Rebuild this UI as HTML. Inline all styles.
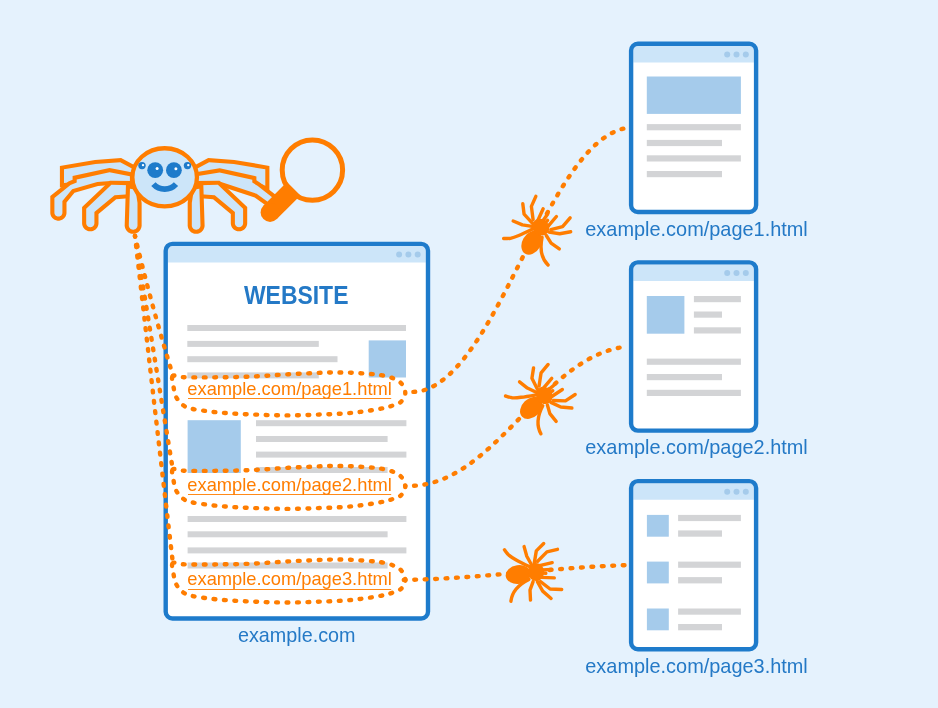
<!DOCTYPE html>
<html><head><meta charset="utf-8"><style>html,body{margin:0;padding:0;background:#e5f2fd;}svg{display:block;will-change:transform}</style></head>
<body><svg width="938" height="708" viewBox="0 0 938 708">
<rect width="938" height="708" fill="#e5f2fd"/>
<rect x="165.7" y="243.89999999999998" width="262.3" height="374.6" rx="6.8" fill="#fff"/>
<path d="M167.9,262.6 V250.7 Q167.9,246.1 172.5,246.1 H421.2 Q425.8,246.1 425.8,250.7 V262.6Z" fill="#cce5f9"/>
<rect x="165.7" y="243.89999999999998" width="262.3" height="374.6" rx="6.8" fill="none" stroke="#1e7bcb" stroke-width="4.4"/>
<circle cx="399.1" cy="254.5" r="3" fill="#a5cbeb"/><circle cx="408.4" cy="254.5" r="3" fill="#a5cbeb"/><circle cx="417.7" cy="254.5" r="3" fill="#a5cbeb"/>
<text x="296.2" y="304.2" text-anchor="middle" font-family="Liberation Sans" font-weight="bold" font-size="26" fill="#2479c6" textLength="104.5" lengthAdjust="spacingAndGlyphs">WEBSITE</text>
<rect x="187.3" y="325" width="218.7" height="6.0" fill="#d3d4d6"/>
<rect x="187.3" y="340.9" width="131.5" height="6.0" fill="#d3d4d6"/>
<rect x="187.3" y="356.2" width="150.2" height="6.0" fill="#d3d4d6"/>
<rect x="187.3" y="372.4" width="131.5" height="6.0" fill="#d3d4d6"/>
<rect x="368.7" y="340.4" width="37.3" height="37.1" fill="#a5cbeb"/>
<rect x="187.6" y="420.2" width="53.2" height="52.8" fill="#a5cbeb"/>
<rect x="256" y="420.2" width="150.4" height="6.0" fill="#d3d4d6"/>
<rect x="256" y="436" width="131.6" height="6.0" fill="#d3d4d6"/>
<rect x="256" y="451.6" width="150.4" height="6.0" fill="#d3d4d6"/>
<rect x="256" y="467" width="131.6" height="6.0" fill="#d3d4d6"/>
<rect x="187.6" y="516" width="218.8" height="6.0" fill="#d3d4d6"/>
<rect x="187.6" y="531.3" width="200.0" height="6.0" fill="#d3d4d6"/>
<rect x="187.6" y="547.4" width="218.8" height="6.0" fill="#d3d4d6"/>
<rect x="187.6" y="562.5" width="200.0" height="6.0" fill="#d3d4d6"/>
<rect x="631.1" y="43.800000000000004" width="125.0" height="168.2" rx="6.8" fill="#fff"/>
<path d="M633.3,62.5 V50.6 Q633.3,46.0 637.9,46.0 H749.3 Q753.9,46.0 753.9,50.6 V62.5Z" fill="#cce5f9"/>
<rect x="631.1" y="43.800000000000004" width="125.0" height="168.2" rx="6.8" fill="none" stroke="#1e7bcb" stroke-width="4.4"/>
<circle cx="727.2" cy="54.5" r="3" fill="#a5cbeb"/><circle cx="736.5" cy="54.5" r="3" fill="#a5cbeb"/><circle cx="745.8" cy="54.5" r="3" fill="#a5cbeb"/>
<rect x="631.1" y="262.4" width="125.0" height="168.2" rx="6.8" fill="#fff"/>
<path d="M633.3,281.09999999999997 V269.2 Q633.3,264.59999999999997 637.9,264.59999999999997 H749.3 Q753.9,264.59999999999997 753.9,269.2 V281.09999999999997Z" fill="#cce5f9"/>
<rect x="631.1" y="262.4" width="125.0" height="168.2" rx="6.8" fill="none" stroke="#1e7bcb" stroke-width="4.4"/>
<circle cx="727.2" cy="273.09999999999997" r="3" fill="#a5cbeb"/><circle cx="736.5" cy="273.09999999999997" r="3" fill="#a5cbeb"/><circle cx="745.8" cy="273.09999999999997" r="3" fill="#a5cbeb"/>
<rect x="631.1" y="481.09999999999997" width="125.0" height="168.2" rx="6.8" fill="#fff"/>
<path d="M633.3,499.79999999999995 V487.9 Q633.3,483.29999999999995 637.9,483.29999999999995 H749.3 Q753.9,483.29999999999995 753.9,487.9 V499.79999999999995Z" fill="#cce5f9"/>
<rect x="631.1" y="481.09999999999997" width="125.0" height="168.2" rx="6.8" fill="none" stroke="#1e7bcb" stroke-width="4.4"/>
<circle cx="727.2" cy="491.79999999999995" r="3" fill="#a5cbeb"/><circle cx="736.5" cy="491.79999999999995" r="3" fill="#a5cbeb"/><circle cx="745.8" cy="491.79999999999995" r="3" fill="#a5cbeb"/>
<rect x="646.8" y="76.5" width="94.1" height="37.4" fill="#a5cbeb"/>
<rect x="646.8" y="124.1" width="94.1" height="6.2" fill="#d3d4d6"/>
<rect x="646.8" y="139.9" width="75.2" height="6.2" fill="#d3d4d6"/>
<rect x="646.8" y="155.3" width="94.1" height="6.2" fill="#d3d4d6"/>
<rect x="646.8" y="171" width="75.2" height="6.2" fill="#d3d4d6"/>
<rect x="646.8" y="296" width="37.6" height="37.7" fill="#a5cbeb"/>
<rect x="693.9" y="296" width="47.0" height="6.2" fill="#d3d4d6"/>
<rect x="693.9" y="311.5" width="28.1" height="6.2" fill="#d3d4d6"/>
<rect x="693.9" y="327.3" width="47.0" height="6.2" fill="#d3d4d6"/>
<rect x="646.8" y="358.6" width="94.1" height="6.2" fill="#d3d4d6"/>
<rect x="646.8" y="374" width="75.2" height="6.2" fill="#d3d4d6"/>
<rect x="646.8" y="389.8" width="94.1" height="6.2" fill="#d3d4d6"/>
<rect x="646.9" y="514.9" width="21.9" height="21.8" fill="#a5cbeb"/>
<rect x="678.1" y="514.9" width="62.8" height="6.2" fill="#d3d4d6"/>
<rect x="678.1" y="530.4" width="43.9" height="6.3" fill="#d3d4d6"/>
<rect x="646.9" y="561.6" width="21.9" height="21.8" fill="#a5cbeb"/>
<rect x="678.1" y="561.6" width="62.8" height="6.2" fill="#d3d4d6"/>
<rect x="678.1" y="577.1" width="43.9" height="6.3" fill="#d3d4d6"/>
<rect x="646.9" y="608.5" width="21.9" height="21.8" fill="#a5cbeb"/>
<rect x="678.1" y="608.5" width="62.8" height="6.2" fill="#d3d4d6"/>
<rect x="678.1" y="624.0" width="43.9" height="6.3" fill="#d3d4d6"/>
<text x="585.3" y="235.7" font-family="Liberation Sans" font-size="19.8" fill="#2479c6" textLength="222.5" lengthAdjust="spacingAndGlyphs">example.com/page1.html</text>
<text x="585.3" y="454.3" font-family="Liberation Sans" font-size="19.8" fill="#2479c6" textLength="222.5" lengthAdjust="spacingAndGlyphs">example.com/page2.html</text>
<text x="585.3" y="673" font-family="Liberation Sans" font-size="19.8" fill="#2479c6" textLength="222.5" lengthAdjust="spacingAndGlyphs">example.com/page3.html</text>
<text x="238" y="641.6" font-family="Liberation Sans" font-size="19.8" fill="#2479c6" textLength="117.5" lengthAdjust="spacingAndGlyphs">example.com</text>
<text x="187.3" y="394.7" font-family="Liberation Sans" font-size="18.6" fill="#ff7d00" textLength="204.5" lengthAdjust="spacingAndGlyphs">example.com/page1.html</text>
<rect x="188" y="398" width="203.2" height="1.0" fill="#ff7d00" opacity="0.9"/>
<text x="187.3" y="490.5" font-family="Liberation Sans" font-size="18.6" fill="#ff7d00" textLength="204.5" lengthAdjust="spacingAndGlyphs">example.com/page2.html</text>
<rect x="188" y="494" width="203.2" height="1.0" fill="#ff7d00" opacity="0.9"/>
<text x="187.3" y="585.4" font-family="Liberation Sans" font-size="18.6" fill="#ff7d00" textLength="204.5" lengthAdjust="spacingAndGlyphs">example.com/page3.html</text>
<rect x="188" y="589" width="203.2" height="1.0" fill="#ff7d00" opacity="0.9"/>
<path d="M172.7,376.1 C174.3,374.5 178.1,377.0 183.3,377.2 C188.6,377.4 197.2,377.4 204.2,377.4 C211.2,377.4 218.3,377.3 225.3,377.2 C232.3,377.1 239.1,377.1 246.0,376.8 C252.9,376.6 259.9,376.1 266.9,375.7 C273.9,375.3 281.0,374.7 288.2,374.3 C295.4,373.9 303.0,373.6 310.0,373.3 C317.0,373.0 323.3,372.6 330.1,372.5 C336.9,372.4 343.9,372.4 350.9,372.7 C357.9,373.0 366.9,373.7 372.2,374.1 C377.4,374.6 378.9,374.7 382.4,375.4 C385.9,376.1 389.8,376.9 393.0,378.3 C396.2,379.7 399.6,381.2 401.6,383.7 C403.7,386.2 405.4,390.3 405.3,393.3 C405.2,396.3 403.3,399.7 401.0,401.8 C398.7,403.9 394.8,404.9 391.4,406.0 C388.0,407.1 386.0,407.7 380.8,408.7 C375.6,409.7 366.9,411.0 360.0,411.9 C353.1,412.8 346.2,413.4 339.2,413.8 C332.2,414.2 325.0,414.4 318.0,414.6 C311.0,414.9 304.1,415.2 297.1,415.3 C290.1,415.4 283.1,415.4 276.2,415.3 C269.2,415.2 262.4,414.9 255.4,414.6 C248.4,414.3 241.1,414.1 234.1,413.6 C227.1,413.2 220.2,412.7 213.2,411.9 C206.2,411.1 197.4,410.0 192.3,408.9 C187.2,407.8 185.6,407.1 182.9,405.1 C180.2,403.1 177.7,400.1 176.1,397.0 C174.5,393.9 174.1,390.2 173.5,386.7 C172.9,383.2 171.1,377.7 172.7,376.1Z" transform="translate(0,0)" fill="none" stroke="#ff7d00" stroke-width="4.4" stroke-linecap="round" stroke-dasharray="1.8 8.65"/>
<path d="M172.7,376.1 C174.3,374.5 178.1,377.0 183.3,377.2 C188.6,377.4 197.2,377.4 204.2,377.4 C211.2,377.4 218.3,377.3 225.3,377.2 C232.3,377.1 239.1,377.1 246.0,376.8 C252.9,376.6 259.9,376.1 266.9,375.7 C273.9,375.3 281.0,374.7 288.2,374.3 C295.4,373.9 303.0,373.6 310.0,373.3 C317.0,373.0 323.3,372.6 330.1,372.5 C336.9,372.4 343.9,372.4 350.9,372.7 C357.9,373.0 366.9,373.7 372.2,374.1 C377.4,374.6 378.9,374.7 382.4,375.4 C385.9,376.1 389.8,376.9 393.0,378.3 C396.2,379.7 399.6,381.2 401.6,383.7 C403.7,386.2 405.4,390.3 405.3,393.3 C405.2,396.3 403.3,399.7 401.0,401.8 C398.7,403.9 394.8,404.9 391.4,406.0 C388.0,407.1 386.0,407.7 380.8,408.7 C375.6,409.7 366.9,411.0 360.0,411.9 C353.1,412.8 346.2,413.4 339.2,413.8 C332.2,414.2 325.0,414.4 318.0,414.6 C311.0,414.9 304.1,415.2 297.1,415.3 C290.1,415.4 283.1,415.4 276.2,415.3 C269.2,415.2 262.4,414.9 255.4,414.6 C248.4,414.3 241.1,414.1 234.1,413.6 C227.1,413.2 220.2,412.7 213.2,411.9 C206.2,411.1 197.4,410.0 192.3,408.9 C187.2,407.8 185.6,407.1 182.9,405.1 C180.2,403.1 177.7,400.1 176.1,397.0 C174.5,393.9 174.1,390.2 173.5,386.7 C172.9,383.2 171.1,377.7 172.7,376.1Z" transform="translate(0,93.5)" fill="none" stroke="#ff7d00" stroke-width="4.4" stroke-linecap="round" stroke-dasharray="1.8 8.65"/>
<path d="M172.7,376.1 C174.3,374.5 178.1,377.0 183.3,377.2 C188.6,377.4 197.2,377.4 204.2,377.4 C211.2,377.4 218.3,377.3 225.3,377.2 C232.3,377.1 239.1,377.1 246.0,376.8 C252.9,376.6 259.9,376.1 266.9,375.7 C273.9,375.3 281.0,374.7 288.2,374.3 C295.4,373.9 303.0,373.6 310.0,373.3 C317.0,373.0 323.3,372.6 330.1,372.5 C336.9,372.4 343.9,372.4 350.9,372.7 C357.9,373.0 366.9,373.7 372.2,374.1 C377.4,374.6 378.9,374.7 382.4,375.4 C385.9,376.1 389.8,376.9 393.0,378.3 C396.2,379.7 399.6,381.2 401.6,383.7 C403.7,386.2 405.4,390.3 405.3,393.3 C405.2,396.3 403.3,399.7 401.0,401.8 C398.7,403.9 394.8,404.9 391.4,406.0 C388.0,407.1 386.0,407.7 380.8,408.7 C375.6,409.7 366.9,411.0 360.0,411.9 C353.1,412.8 346.2,413.4 339.2,413.8 C332.2,414.2 325.0,414.4 318.0,414.6 C311.0,414.9 304.1,415.2 297.1,415.3 C290.1,415.4 283.1,415.4 276.2,415.3 C269.2,415.2 262.4,414.9 255.4,414.6 C248.4,414.3 241.1,414.1 234.1,413.6 C227.1,413.2 220.2,412.7 213.2,411.9 C206.2,411.1 197.4,410.0 192.3,408.9 C187.2,407.8 185.6,407.1 182.9,405.1 C180.2,403.1 177.7,400.1 176.1,397.0 C174.5,393.9 174.1,390.2 173.5,386.7 C172.9,383.2 171.1,377.7 172.7,376.1Z" transform="translate(0,187.1)" fill="none" stroke="#ff7d00" stroke-width="4.4" stroke-linecap="round" stroke-dasharray="1.8 8.65"/>
<path stroke-dashoffset="1.3" d="M135,236 Q150,300 173,376" fill="none" stroke="#ff7d00" stroke-width="4.4" stroke-linecap="round" stroke-dasharray="1.8 8.65"/>
<path stroke-dashoffset="1.3" d="M135,236 Q158,380 173,470.5" fill="none" stroke="#ff7d00" stroke-width="4.4" stroke-linecap="round" stroke-dasharray="1.8 8.65"/>
<path stroke-dashoffset="1.3" d="M135,236 Q156,420 173,564" fill="none" stroke="#ff7d00" stroke-width="4.4" stroke-linecap="round" stroke-dasharray="1.8 8.65"/>
<path stroke-dashoffset="2" d="M405,391 C462.2,403.6 510.3,274.0 534.5,236.0 C553.2,203.6 585.8,133.1 628.0,127.8" fill="none" stroke="#ff7d00" stroke-width="4.4" stroke-linecap="round" stroke-dasharray="1.8 8.65"/>
<path stroke-dashoffset="1.5" d="M405.1,485.9 C494.0,489.6 540.2,356.3 626.4,346.6" fill="none" stroke="#ff7d00" stroke-width="4.4" stroke-linecap="round" stroke-dasharray="1.8 8.65"/>
<path d="M403.8,579.9 C476.8,579.0 549.2,567.8 622.1,565.3 L628,565.1" fill="none" stroke="#ff7d00" stroke-width="4.4" stroke-linecap="round" stroke-dasharray="1.8 8.65"/>
<g transform="translate(535.2,572.1)"><path d="M-5.3,-5.3 C-7.6,-6.4 -15.5,-10.2 -19.0,-12.2 C-22.5,-14.1 -24.4,-15.3 -26.4,-17.0 C-28.3,-18.7 -30.0,-21.4 -30.7,-22.3" fill="none" stroke="#ff7d00" stroke-width="3.4" stroke-linecap="round" stroke-linejoin="round"/><path d="M-3.7,-7.4 L-8.4,-15.9 L-11.1,-25.5" fill="none" stroke="#ff7d00" stroke-width="3.4" stroke-linecap="round" stroke-linejoin="round"/><path d="M-1.0,-8.5 L1.1,-21.2 L8.5,-28.6" fill="none" stroke="#ff7d00" stroke-width="3.4" stroke-linecap="round" stroke-linejoin="round"/><path d="M2.2,-10.6 L11.7,-20.2 L22.3,-22.8" fill="none" stroke="#ff7d00" stroke-width="3.4" stroke-linecap="round" stroke-linejoin="round"/><path d="M4.3,-6.4 L17.0,-9.4" fill="none" stroke="#ff7d00" stroke-width="3.4" stroke-linecap="round" stroke-linejoin="round"/><path d="M-6.3,7.4 Q-22.7,15.5 -24.3,29.1" fill="none" stroke="#ff7d00" stroke-width="3.4" stroke-linecap="round" stroke-linejoin="round"/><path d="M-2.1,9.5 L-5.2,18.0 L-4.7,28.0" fill="none" stroke="#ff7d00" stroke-width="3.4" stroke-linecap="round" stroke-linejoin="round"/><path d="M2.2,9.5 L7.5,19.0 L15.9,26.4" fill="none" stroke="#ff7d00" stroke-width="3.4" stroke-linecap="round" stroke-linejoin="round"/><path d="M5.3,9.5 L14.9,16.9 L26.5,17.4" fill="none" stroke="#ff7d00" stroke-width="3.4" stroke-linecap="round" stroke-linejoin="round"/><path d="M6.4,5.3 L19.1,5.8" fill="none" stroke="#ff7d00" stroke-width="3.4" stroke-linecap="round" stroke-linejoin="round"/><path d="M7.5,-2.1 L15.9,-2.7" fill="none" stroke="#ff7d00" stroke-width="3.4" stroke-linecap="round" stroke-linejoin="round"/><path d="M7.5,1.0 L10.6,1.2" fill="none" stroke="#ff7d00" stroke-width="3.4" stroke-linecap="round" stroke-linejoin="round"/><ellipse cx="-16.9" cy="2.4" rx="12.7" ry="9.3" transform="rotate(-8 -16.9 2.4)" fill="#ff7d00"/><ellipse cx="1" cy="0" rx="8" ry="9" fill="#ff7d00"/></g>
<g transform="translate(540.1,228) rotate(-52)"><path d="M-5.3,-5.3 C-7.6,-6.4 -15.5,-10.2 -19.0,-12.2 C-22.5,-14.1 -24.4,-15.3 -26.4,-17.0 C-28.3,-18.7 -30.0,-21.4 -30.7,-22.3" fill="none" stroke="#ff7d00" stroke-width="3.4" stroke-linecap="round" stroke-linejoin="round"/><path d="M-3.7,-7.4 L-8.4,-15.9 L-11.1,-25.5" fill="none" stroke="#ff7d00" stroke-width="3.4" stroke-linecap="round" stroke-linejoin="round"/><path d="M-1.0,-8.5 L1.1,-21.2 L8.5,-28.6" fill="none" stroke="#ff7d00" stroke-width="3.4" stroke-linecap="round" stroke-linejoin="round"/><path d="M2.2,-10.6 L11.7,-20.2 L22.3,-22.8" fill="none" stroke="#ff7d00" stroke-width="3.4" stroke-linecap="round" stroke-linejoin="round"/><path d="M4.3,-6.4 L17.0,-9.4" fill="none" stroke="#ff7d00" stroke-width="3.4" stroke-linecap="round" stroke-linejoin="round"/><path d="M-6.3,7.4 Q-22.7,15.5 -24.3,29.1" fill="none" stroke="#ff7d00" stroke-width="3.4" stroke-linecap="round" stroke-linejoin="round"/><path d="M-2.1,9.5 L-5.2,18.0 L-4.7,28.0" fill="none" stroke="#ff7d00" stroke-width="3.4" stroke-linecap="round" stroke-linejoin="round"/><path d="M2.2,9.5 L7.5,19.0 L15.9,26.4" fill="none" stroke="#ff7d00" stroke-width="3.4" stroke-linecap="round" stroke-linejoin="round"/><path d="M5.3,9.5 L14.9,16.9 L26.5,17.4" fill="none" stroke="#ff7d00" stroke-width="3.4" stroke-linecap="round" stroke-linejoin="round"/><path d="M6.4,5.3 L19.1,5.8" fill="none" stroke="#ff7d00" stroke-width="3.4" stroke-linecap="round" stroke-linejoin="round"/><path d="M7.5,-2.1 L15.9,-2.7" fill="none" stroke="#ff7d00" stroke-width="3.4" stroke-linecap="round" stroke-linejoin="round"/><path d="M7.5,1.0 L10.6,1.2" fill="none" stroke="#ff7d00" stroke-width="3.4" stroke-linecap="round" stroke-linejoin="round"/><ellipse cx="-16.9" cy="2.4" rx="12.7" ry="9.3" transform="rotate(-8 -16.9 2.4)" fill="#ff7d00"/><ellipse cx="1" cy="0" rx="8" ry="9" fill="#ff7d00"/></g>
<g transform="translate(543.5,396) rotate(-36)"><path d="M-5.3,-5.3 C-7.6,-6.4 -15.5,-10.2 -19.0,-12.2 C-22.5,-14.1 -24.4,-15.3 -26.4,-17.0 C-28.3,-18.7 -30.0,-21.4 -30.7,-22.3" fill="none" stroke="#ff7d00" stroke-width="3.4" stroke-linecap="round" stroke-linejoin="round"/><path d="M-3.7,-7.4 L-8.4,-15.9 L-11.1,-25.5" fill="none" stroke="#ff7d00" stroke-width="3.4" stroke-linecap="round" stroke-linejoin="round"/><path d="M-1.0,-8.5 L1.1,-21.2 L8.5,-28.6" fill="none" stroke="#ff7d00" stroke-width="3.4" stroke-linecap="round" stroke-linejoin="round"/><path d="M2.2,-10.6 L11.7,-20.2 L22.3,-22.8" fill="none" stroke="#ff7d00" stroke-width="3.4" stroke-linecap="round" stroke-linejoin="round"/><path d="M4.3,-6.4 L17.0,-9.4" fill="none" stroke="#ff7d00" stroke-width="3.4" stroke-linecap="round" stroke-linejoin="round"/><path d="M-6.3,7.4 Q-22.7,15.5 -24.3,29.1" fill="none" stroke="#ff7d00" stroke-width="3.4" stroke-linecap="round" stroke-linejoin="round"/><path d="M-2.1,9.5 L-5.2,18.0 L-4.7,28.0" fill="none" stroke="#ff7d00" stroke-width="3.4" stroke-linecap="round" stroke-linejoin="round"/><path d="M2.2,9.5 L7.5,19.0 L15.9,26.4" fill="none" stroke="#ff7d00" stroke-width="3.4" stroke-linecap="round" stroke-linejoin="round"/><path d="M5.3,9.5 L14.9,16.9 L26.5,17.4" fill="none" stroke="#ff7d00" stroke-width="3.4" stroke-linecap="round" stroke-linejoin="round"/><path d="M6.4,5.3 L19.1,5.8" fill="none" stroke="#ff7d00" stroke-width="3.4" stroke-linecap="round" stroke-linejoin="round"/><path d="M7.5,-2.1 L15.9,-2.7" fill="none" stroke="#ff7d00" stroke-width="3.4" stroke-linecap="round" stroke-linejoin="round"/><path d="M7.5,1.0 L10.6,1.2" fill="none" stroke="#ff7d00" stroke-width="3.4" stroke-linecap="round" stroke-linejoin="round"/><ellipse cx="-16.9" cy="2.4" rx="12.7" ry="9.3" transform="rotate(-8 -16.9 2.4)" fill="#ff7d00"/><ellipse cx="1" cy="0" rx="8" ry="9" fill="#ff7d00"/></g>
<path d="M136.00,166.00 L121.10,158.10 L95.00,159.90 L59.90,165.90 L59.90,187.40 L75.00,186.00 L110.00,179.00 L136.00,177.00Z" fill="#ff7d00"/><path d="M131.90,168.47 L120.21,162.27 L95.49,163.98 L64.00,169.36 L64.00,182.90 L74.41,181.94 L109.44,174.93 L131.90,173.20Z" fill="#cce5f9"/><path d="M193.30,166.00 L193.30,177.00 L219.30,179.00 L254.00,185.00 L269.40,192.00 L269.40,165.90 L234.30,159.90 L208.20,158.10Z" fill="#ff7d00"/><path d="M197.40,168.47 L197.40,173.20 L219.81,174.93 L255.22,181.05 L265.30,185.63 L265.30,169.36 L233.81,163.98 L209.09,162.27Z" fill="#cce5f9"/><path d="M109.50,168.00 L72.60,176.10 L72.60,179.70 L68.40,181.40 L50.30,196.00 L50.30,212.60 L50.34,213.39 L50.46,214.18 L50.65,214.95 L50.92,215.70 L51.26,216.42 L51.67,217.10 L52.14,217.74 L52.67,218.33 L53.26,218.86 L53.90,219.33 L54.58,219.74 L55.30,220.08 L56.05,220.35 L56.82,220.54 L57.61,220.66 L58.40,220.70 L59.19,220.66 L59.98,220.54 L60.75,220.35 L61.50,220.08 L62.22,219.74 L62.90,219.33 L63.54,218.86 L64.13,218.33 L64.66,217.74 L65.13,217.10 L65.54,216.42 L65.88,215.70 L66.15,214.95 L66.34,214.18 L66.46,213.39 L66.50,212.60 L66.50,202.40 L74.50,192.80 L98.00,186.00 L110.50,185.00 L134.00,185.30 L134.00,172.80Z" fill="#ff7d00"/><path d="M109.55,172.19 L76.70,179.40 L76.70,182.46 L70.50,184.97 L54.40,197.96 L54.40,212.50 L54.42,212.99 L54.48,213.38 L54.58,213.76 L54.71,214.13 L54.88,214.48 L55.08,214.82 L55.31,215.13 L55.58,215.42 L55.87,215.69 L56.18,215.92 L56.52,216.12 L56.87,216.29 L57.24,216.42 L57.62,216.52 L58.01,216.58 L58.40,216.60 L58.79,216.58 L59.18,216.52 L59.56,216.42 L59.93,216.29 L60.28,216.12 L60.62,215.92 L60.93,215.69 L61.22,215.42 L61.49,215.13 L61.72,214.82 L61.92,214.48 L62.09,214.13 L62.22,213.76 L62.32,213.38 L62.38,212.99 L62.40,212.50 L62.40,200.92 L72.15,189.21 L97.26,181.95 L110.36,180.90 L129.90,181.15 L129.90,176.17Z" fill="#cce5f9"/><path d="M194.00,172.60 L194.00,185.30 L219.70,185.90 L254.70,197.50 L275.00,212.00 L285.00,202.00 L259.80,182.40 L256.40,180.30 L256.40,176.40 L219.70,168.30Z" fill="#ff7d00"/><path d="M198.10,176.07 L198.10,181.29 L220.41,181.82 L256.58,193.80 L274.56,206.64 L278.82,202.38 L257.46,185.77 L252.30,182.59 L252.30,179.69 L219.59,172.47Z" fill="#cce5f9"/><path d="M109.80,180.70 L82.10,207.00 L82.10,223.10 L82.14,223.90 L82.26,224.70 L82.45,225.48 L82.72,226.24 L83.07,226.97 L83.48,227.66 L83.96,228.30 L84.50,228.90 L85.10,229.44 L85.74,229.92 L86.43,230.33 L87.16,230.68 L87.92,230.95 L88.70,231.14 L89.50,231.26 L90.30,231.30 L91.10,231.26 L91.90,231.14 L92.68,230.95 L93.44,230.68 L94.17,230.33 L94.86,229.92 L95.50,229.44 L96.10,228.90 L96.64,228.30 L97.12,227.66 L97.53,226.97 L97.88,226.24 L98.15,225.48 L98.34,224.70 L98.46,223.90 L98.50,223.10 L98.50,214.00 L116.20,199.20 L125.40,198.50 L134.00,198.50 L134.00,181.10Z" fill="#ff7d00"/><path d="M111.41,184.83 L86.20,208.76 L86.20,223.00 L86.22,223.50 L86.28,223.90 L86.38,224.29 L86.52,224.67 L86.69,225.03 L86.90,225.38 L87.13,225.70 L87.40,226.00 L87.70,226.27 L88.02,226.50 L88.37,226.71 L88.73,226.88 L89.11,227.02 L89.50,227.12 L89.90,227.18 L90.30,227.20 L90.70,227.18 L91.10,227.12 L91.49,227.02 L91.87,226.88 L92.23,226.71 L92.58,226.50 L92.90,226.27 L93.20,226.00 L93.47,225.70 L93.70,225.38 L93.91,225.03 L94.08,224.67 L94.22,224.29 L94.32,223.90 L94.38,223.50 L94.40,223.00 L94.40,212.08 L114.58,195.21 L125.24,194.40 L129.90,194.40 L129.90,185.13Z" fill="#cce5f9"/><path d="M219.50,180.70 L247.20,207.00 L247.20,223.10 L247.16,223.90 L247.04,224.70 L246.85,225.48 L246.58,226.24 L246.23,226.97 L245.82,227.66 L245.34,228.30 L244.80,228.90 L244.20,229.44 L243.56,229.92 L242.87,230.33 L242.14,230.68 L241.38,230.95 L240.60,231.14 L239.80,231.26 L239.00,231.30 L238.20,231.26 L237.40,231.14 L236.62,230.95 L235.86,230.68 L235.13,230.33 L234.44,229.92 L233.80,229.44 L233.20,228.90 L232.66,228.30 L232.18,227.66 L231.77,226.97 L231.42,226.24 L231.15,225.48 L230.96,224.70 L230.84,223.90 L230.80,223.10 L230.80,214.00 L213.10,199.20 L203.90,198.50 L195.30,198.50 L195.30,181.10Z" fill="#ff7d00"/><path d="M217.89,184.83 L199.40,185.13 L199.40,194.40 L204.06,194.40 L214.72,195.21 L234.90,212.08 L234.90,223.00 L234.92,223.50 L234.98,223.90 L235.08,224.29 L235.22,224.67 L235.39,225.03 L235.60,225.38 L235.83,225.70 L236.10,226.00 L236.40,226.27 L236.72,226.50 L237.07,226.71 L237.43,226.88 L237.81,227.02 L238.20,227.12 L238.60,227.18 L239.00,227.20 L239.40,227.18 L239.80,227.12 L240.19,227.02 L240.57,226.88 L240.93,226.71 L241.28,226.50 L241.60,226.27 L241.90,226.00 L242.17,225.70 L242.40,225.38 L242.61,225.03 L242.78,224.67 L242.92,224.29 L243.02,223.90 L243.08,223.50 L243.10,223.00 L243.10,208.76Z" fill="#cce5f9"/><path d="M124.70,225.35 L124.74,226.18 L124.86,227.00 L125.06,227.80 L125.34,228.58 L125.70,229.33 L126.12,230.04 L126.62,230.71 L127.17,231.33 L127.79,231.88 L128.46,232.38 L129.17,232.80 L129.92,233.16 L130.70,233.44 L131.50,233.64 L132.32,233.76 L133.15,233.80 L133.98,233.76 L134.80,233.64 L135.60,233.44 L136.38,233.16 L137.13,232.80 L137.84,232.38 L138.51,231.88 L139.13,231.33 L139.68,230.71 L140.18,230.04 L140.60,229.33 L140.96,228.58 L141.24,227.80 L141.44,227.00 L141.56,226.18 L141.60,225.35 L141.60,202.70 L139.00,186.00 L126.00,184.00Z" fill="#ff7d00"/><path d="M128.80,225.31 L128.83,225.78 L128.89,226.20 L128.99,226.61 L129.14,227.01 L129.32,227.40 L129.54,227.76 L129.79,228.11 L130.08,228.42 L130.39,228.71 L130.74,228.96 L131.10,229.18 L131.49,229.36 L131.89,229.51 L132.30,229.61 L132.72,229.67 L133.15,229.70 L133.58,229.67 L134.00,229.61 L134.41,229.51 L134.81,229.36 L135.20,229.18 L135.56,228.96 L135.91,228.71 L136.22,228.42 L136.51,228.11 L136.76,227.76 L136.98,227.40 L137.16,227.01 L137.31,226.61 L137.41,226.20 L137.47,225.78 L137.50,225.25 L137.50,203.02 L135.41,189.60 L129.95,188.76Z" fill="#cce5f9"/><path d="M204.60,225.35 L204.56,226.18 L204.44,227.00 L204.24,227.80 L203.96,228.58 L203.60,229.33 L203.18,230.04 L202.68,230.71 L202.13,231.33 L201.51,231.88 L200.84,232.38 L200.13,232.80 L199.38,233.16 L198.60,233.44 L197.80,233.64 L196.98,233.76 L196.15,233.80 L195.32,233.76 L194.50,233.64 L193.70,233.44 L192.92,233.16 L192.17,232.80 L191.46,232.38 L190.79,231.88 L190.17,231.33 L189.62,230.71 L189.12,230.04 L188.70,229.33 L188.34,228.58 L188.06,227.80 L187.86,227.00 L187.74,226.18 L187.70,225.35 L187.70,202.70 L190.30,186.00 L203.30,184.00Z" fill="#ff7d00"/><path d="M200.50,225.31 L199.35,188.76 L193.89,189.60 L191.80,203.02 L191.80,225.25 L191.83,225.78 L191.89,226.20 L191.99,226.61 L192.14,227.01 L192.32,227.40 L192.54,227.76 L192.79,228.11 L193.08,228.42 L193.39,228.71 L193.74,228.96 L194.10,229.18 L194.49,229.36 L194.89,229.51 L195.30,229.61 L195.72,229.67 L196.15,229.70 L196.58,229.67 L197.00,229.61 L197.41,229.51 L197.81,229.36 L198.20,229.18 L198.56,228.96 L198.91,228.71 L199.22,228.42 L199.51,228.11 L199.76,227.76 L199.98,227.40 L200.16,227.01 L200.31,226.61 L200.41,226.20 L200.47,225.78Z" fill="#cce5f9"/><circle cx="312.4" cy="170.1" r="30.2" fill="none" stroke="#ff7d00" stroke-width="5"/><line x1="270.1" y1="212.4" x2="293.7" y2="188.8" stroke="#ff7d00" stroke-width="19" stroke-linecap="butt"/><circle cx="270.1" cy="212.4" r="9.5" fill="#ff7d00"/><ellipse cx="164.65" cy="177.35" rx="32.3" ry="29.1" fill="#cce5f9" stroke="#ff7d00" stroke-width="4.3"/><circle cx="155.2" cy="170.2" r="7.9" fill="#1e7bcb"/><circle cx="157.1" cy="168.6" r="1.5" fill="#fff"/><circle cx="173.9" cy="170.2" r="7.9" fill="#1e7bcb"/><circle cx="175.9" cy="168.8" r="1.5" fill="#fff"/><circle cx="142" cy="165.6" r="3.7" fill="#1e7bcb"/><circle cx="143" cy="165.1" r="1.2" fill="#fff"/><circle cx="187.5" cy="165.6" r="3.7" fill="#1e7bcb"/><circle cx="188.3" cy="165.1" r="1.2" fill="#fff"/><path d="M176.0,184.1 A15.2,15.2 0 0 1 153.4,184.1" fill="none" stroke="#1e7bcb" stroke-width="5.8"/>
</svg></body></html>
